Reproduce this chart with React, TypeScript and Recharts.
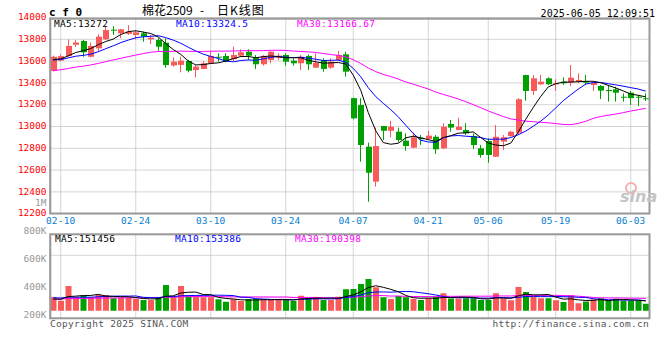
import React from 'react';
import { ComposedChart, Bar, Line, XAxis, YAxis, CartesianGrid, Cell } from 'recharts';

const MONO = '"DejaVu Sans Mono", monospace';
const RED = '#f85a5a';
const GREEN = '#00a000';
const BLUE_TICK = '#0a80d0';

// trading days shown on the chart (MM-DD)
const dates = [
  '02-07',
  '02-10', '02-11', '02-12', '02-13', '02-14',
  '02-17', '02-18', '02-19', '02-20', '02-21',
  '02-24', '02-25', '02-26', '02-27', '02-28',
  '03-03', '03-04', '03-05', '03-06', '03-07',
  '03-10', '03-11', '03-12', '03-13', '03-14',
  '03-17', '03-18', '03-19', '03-20', '03-21',
  '03-24', '03-25', '03-26', '03-27', '03-28',
  '03-31', '04-01', '04-02', '04-03',
  '04-07', '04-08', '04-09', '04-10', '04-11',
  '04-14', '04-15', '04-16', '04-17', '04-18',
  '04-21', '04-22', '04-23', '04-24', '04-25',
  '04-28', '04-29', '04-30',
  '05-06', '05-07', '05-08', '05-09',
  '05-12', '05-13', '05-14', '05-15', '05-16',
  '05-19', '05-20', '05-21', '05-22', '05-23',
  '05-26', '05-27', '05-28', '05-29', '05-30',
  '06-03', '06-04', '06-05',
];

const tickDates = ['02-10', '02-24', '03-10', '03-24', '04-07', '04-21', '05-06', '05-19', '06-03'];
const priceTicks = [12200, 12400, 12600, 12800, 13000, 13200, 13400, 13600, 13800, 14000];
const volLabelTicks = [200000, 400000, 600000, 800000, 1000000];

const opens = [
  13510, 13605, 13647, 13750, 13784, 13640, 13717, 13800, 13888, 13855,
  13850, 13840, 13855, 13800, 13794, 13769, 13560, 13565, 13601, 13518,
  13528, 13580, 13640, 13647, 13617, 13650, 13686, 13635, 13571, 13610,
  13631, 13656, 13604, 13580, 13647, 13540, 13610, 13540, 13610, 13662,
  13260, 13197, 12815, 12494, 13004, 12961, 12952, 12870, 12806, 12897,
  12885, 12906, 12800, 13023, 12968, 12968, 12913, 12800, 12867, 12723,
  12861, 12913, 12943, 13472, 13326, 13387, 13442, 13388, 13411, 13402,
  13411, 13418, 13381, 13372, 13335, 13341, 13273, 13310, 13273, 13259,
];
const highs = [
  13650, 13660, 13800, 13795, 13795, 13770, 13846, 13922, 13920, 13895,
  13930, 13885, 13870, 13840, 13810, 13809, 13635, 13640, 13610, 13564,
  13600, 13695, 13672, 13672, 13732, 13708, 13708, 13656, 13656, 13695,
  13672, 13672, 13626, 13656, 13662, 13672, 13626, 13626, 13693, 13686,
  13265, 13260, 12852, 12989, 13005, 13053, 12989, 12937, 12946, 12922,
  12961, 12922, 13030, 13060, 13081, 13030, 12937, 12830, 12892, 13014,
  12922, 12961, 13259, 13475, 13472, 13472, 13451, 13433, 13451, 13564,
  13488, 13472, 13411, 13381, 13381, 13365, 13304, 13326, 13289, 13304,
];
const lows = [
  13505, 13600, 13640, 13730, 13640, 13635, 13686, 13794, 13840, 13810,
  13840, 13800, 13778, 13757, 13695, 13540, 13549, 13497, 13497, 13451,
  13525, 13578, 13595, 13590, 13601, 13640, 13610, 13528, 13558, 13580,
  13610, 13558, 13558, 13518, 13518, 13538, 13503, 13530, 13605, 13457,
  13065, 12677, 12310, 12448, 12876, 12901, 12855, 12778, 12800, 12830,
  12876, 12748, 12791, 12952, 12965, 12922, 12794, 12714, 12668, 12720,
  12784, 12906, 12922, 13237, 13289, 13381, 13381, 13326, 13381, 13372,
  13396, 13381, 13326, 13252, 13228, 13228, 13228, 13197, 13188, 13234,
];
const closes = [
  13640, 13645, 13739, 13770, 13681, 13739, 13824, 13885, 13880, 13892,
  13870, 13864, 13825, 13815, 13732, 13564, 13595, 13604, 13512, 13549,
  13580, 13647, 13632, 13595, 13656, 13681, 13650, 13571, 13647, 13686,
  13650, 13595, 13580, 13640, 13571, 13585, 13528, 13595, 13656, 13503,
  13075, 12830, 12576, 12821, 12961, 12998, 12876, 12821, 12901, 12883,
  12916, 12791, 12998, 12990, 12998, 12937, 12830, 12739, 12739, 12906,
  12902, 12952, 13250, 13326, 13442, 13411, 13387, 13396, 13397, 13448,
  13427, 13402, 13402, 13329, 13325, 13310, 13265, 13260, 13270, 13255,
];
// volume (lots)
const volumes = [
  207000, 155000, 382000, 207000, 227000, 207000, 243000, 243000, 192000, 201000,
  201000, 181000, 166000, 166000, 207000, 398000, 217000, 382000, 227000, 217000,
  207000, 207000, 176000, 139000, 176000, 150000, 181000, 181000, 166000, 166000,
  176000, 181000, 150000, 232000, 201000, 212000, 166000, 166000, 217000, 331000,
  336000, 413000, 491000, 362000, 207000, 181000, 227000, 207000, 181000, 166000,
  192000, 212000, 269000, 187000, 187000, 192000, 192000, 166000, 166000, 269000,
  192000, 161000, 367000, 290000, 218000, 192000, 192000, 161000, 135000, 238080,
  116000, 142000, 172000, 192000, 154580, 185000, 154000, 155000, 155000, 108280,
];

// closes / volumes before the visible window, estimated so the MA lines start where they do
const prevCloses = [
  13380, 13400, 13390, 13420, 13410, 13400, 13395, 13410, 13440, 13420,
  13430, 13415, 13455, 13520, 13545, 13560, 13550, 13570, 13580, 13575,
  13600, 13590, 13615, 13605, 13620, 13610, 13605, 13615, 13600,
];
const prevVolumes = [
  160000, 175000, 168000, 180000, 165000, 172000, 178000, 160000, 170000, 185000,
  168000, 175000, 162000, 170000, 180000, 165000, 172000, 168000, 178000, 170000,
  210000, 235000, 215000, 225000, 215000, 180000, 170000, 175000, 175000,
];

const movingAvg = (src: number[], offset: number, n: number, i: number) => {
  let s = 0;
  for (let k = i + offset - n + 1; k <= i + offset; k++) s += src[k];
  return s / n;
};

const allCloses = [...prevCloses, ...closes];
const allVols = [...prevVolumes, ...volumes];
const P = prevCloses.length;

const rows = dates.map((date, i) => ({
  date,
  open: opens[i],
  high: highs[i],
  low: lows[i],
  close: closes[i],
  volume: volumes[i],
  ma5: movingAvg(allCloses, P, 5, i),
  ma10: movingAvg(allCloses, P, 10, i),
  ma30: movingAvg(allCloses, P, 30, i),
  vma5: movingAvg(allVols, P, 5, i),
  vma10: movingAvg(allVols, P, 10, i),
  vma30: movingAvg(allVols, P, 30, i),
}));

// volume bar scale: zero sits a little above the panel floor, like the original
const VOL_DOMAIN = [-117600, 1182400];
const volGrid = [1, 2, 3].map((k) => VOL_DOMAIN[0] + ((VOL_DOMAIN[1] - VOL_DOMAIN[0]) * k) / 4);

const Candle = (props: any) => {
  const { x, y, width, height, payload } = props;
  if (!payload) return null;
  const { open, close, high, low } = payload;
  const color = close >= open ? RED : GREEN;
  const top = Math.min(y, y + height);
  const h = Math.abs(height);
  const k = h / (high - low || 1);
  const py = (v: number) => top + (high - v) * k;
  const bodyTop = py(Math.max(open, close));
  const bodyH = Math.max(1, Math.abs(py(open) - py(close)));
  const bx = Math.round(x);
  const cx = bx + Math.round(width / 2) - 0.5;
  return (
    <g>
      <line x1={cx} x2={cx} y1={top} y2={top + h} stroke={color} strokeWidth={1} />
      <rect x={bx} y={bodyTop} width={Math.round(width)} height={bodyH} fill={color} />
    </g>
  );
};

const DateTick = ({ x, y, payload }: any) => (
  <text x={x} y={y} dy={10.3} textAnchor="middle" fill={BLUE_TICK} fontSize={9.5} fontFamily={MONO} letterSpacing={0.2}>
    {payload.value}
  </text>
);

const PriceTick = ({ x, y, payload }: any) => (
  <text x={x} y={y} dx={-3} dy={2.6} textAnchor="end" fill="#ff0000" fontSize={9.5} fontFamily={MONO}>
    {payload.value}
  </text>
);

const fmtVol = (v: number) => (v >= 1000000 ? `${v / 1000000}M` : `${v / 1000}K`);

const VolTick = ({ x, y, payload }: any) => (
  <text x={x} y={y} dx={-3} dy={3.3} textAnchor="end" fill="#999999" fontSize={9.5} fontFamily={MONO}>
    {fmtVol(payload.value)}
  </text>
);

const last = rows[rows.length - 1];
const f2 = (v: number) => String(Math.round(v * 100) / 100);

export default function App() {
  return (
    <div style={{ position: 'absolute', left: 0, top: 0, width: 660, height: 360, background: '#fff', overflow: 'hidden' }}>
      <div style={{ position: 'absolute', left: 0, top: 0 }}>
        <ComposedChart width={660} height={232} data={rows} margin={{ top: 17.5, right: 10.5, bottom: 2.3, left: 0 }}>
          <CartesianGrid stroke="#aaaaaa" strokeDasharray="1 1" />
          <XAxis
            dataKey="date"
            ticks={tickDates}
            interval={0}
            tickLine={false}
            axisLine={false}
            tickSize={0}
            tickMargin={0}
            height={16}
            tick={<DateTick />}
          />
          <YAxis
            domain={[12200, 14000]}
            allowDataOverflow
            ticks={priceTicks}
            interval={0}
            tickLine={false}
            axisLine={false}
            tickSize={0}
            tickMargin={0}
            width={49.5}
            tick={<PriceTick />}
          />
          <Bar dataKey={(d: any) => [d.low, d.high]} shape={Candle} barSize={6} isAnimationActive={false} />
          <Line dataKey="ma30" stroke="#ff00ff" strokeWidth={1} dot={false} activeDot={false} isAnimationActive={false} />
          <Line dataKey="ma10" stroke="#0000ff" strokeWidth={1} dot={false} activeDot={false} isAnimationActive={false} />
          <Line dataKey="ma5" stroke="#000000" strokeWidth={1} dot={false} activeDot={false} isAnimationActive={false} />
        </ComposedChart>
      </div>
      <div style={{ position: 'absolute', left: 0, top: 190 }}>
        <ComposedChart width={660} height={135} data={rows} margin={{ top: 44.3, right: 10.5, bottom: 6.7, left: 0 }}>
          <CartesianGrid stroke="#aaaaaa" strokeDasharray="1 1" />
          <XAxis dataKey="date" hide ticks={tickDates} interval={0} />
          <YAxis
            yAxisId="lbl"
            domain={[175000, 772400]}
            allowDataOverflow
            ticks={volLabelTicks}
            interval={0}
            tickLine={false}
            axisLine={false}
            tickSize={0}
            tickMargin={0}
            width={49.5}
            tick={<VolTick />}
          />
          <YAxis domain={VOL_DOMAIN} allowDataOverflow ticks={volGrid} hide width={0} />
          <Bar dataKey="volume" barSize={6} isAnimationActive={false}>
            {rows.map((r) => (
              <Cell key={r.date} fill={r.close >= r.open ? RED : GREEN} />
            ))}
          </Bar>
          <Line dataKey="vma30" stroke="#ff00ff" strokeWidth={1} dot={false} activeDot={false} isAnimationActive={false} />
          <Line dataKey="vma10" stroke="#0000ff" strokeWidth={1} dot={false} activeDot={false} isAnimationActive={false} />
          <Line dataKey="vma5" stroke="#000000" strokeWidth={1} dot={false} activeDot={false} isAnimationActive={false} />
        </ComposedChart>
      </div>
      <svg width={660} height={360} style={{ position: 'absolute', left: 0, top: 0, pointerEvents: 'none' }}>
        <rect x={50.3} y={18.7} width={599.2} height={194.8} fill="none" stroke="#999999" strokeWidth={2} />
        <rect x={50.3} y={234.3} width={599.2} height={84} fill="none" stroke="#999999" strokeWidth={2} />
        <text x={49} y={15.5} fontFamily={MONO} fontWeight="bold" fontSize={11}>c f 0</text>
        <text x={142} y={15} fontFamily='"Noto Sans CJK SC"' fontSize={12} fill="#000">棉花2509</text>
        <text x={200} y={15} fontFamily='"Noto Sans CJK SC"' fontSize={12} fill="#000">-</text>
        <text x={217} y={15} fontFamily='"Noto Sans CJK SC"' fontSize={12} fill="#000" letterSpacing={1}>日K线图</text>
        <text x={655} y={17} textAnchor="end" fontFamily={MONO} fontSize={10} fill="#000">2025-06-05 12:09:51</text>
        <g fontFamily={MONO} fontSize={9.5} letterSpacing={0.3}>
          <text x={54} y={26.5} fill="#000">MA5:{Math.round(last.ma5)}</text>
          <text x={176} y={26.5} fill="#0000ff">MA10:{f2(last.ma10)}</text>
          <text x={297} y={26.5} fill="#ff00ff">MA30:{f2(last.ma30)}</text>
          <text x={55} y={242} fill="#000">MA5:{Math.round(last.vma5)}</text>
          <text x={175} y={242} fill="#0000ff">MA10:{Math.round(last.vma10)}</text>
          <text x={295} y={242} fill="#ff00ff">MA30:{Math.round(last.vma30)}</text>
          <text x={50} y={327} fill="#555555">Copyright 2025 SINA.COM</text>
          <text x={649} y={327} fill="#555555" textAnchor="end">http://finance.sina.com.cn</text>
        </g>
        <circle cx={631} cy={188} r={5} fill="none" stroke="#f3b0b0" strokeWidth={2} />
        <text x={620} y={202} fontFamily='"DejaVu Sans"' fontStyle="italic" fontWeight="bold" fontSize={16} fill="#c4c4c4">sina</text>
      </svg>
    </div>
  );
}
